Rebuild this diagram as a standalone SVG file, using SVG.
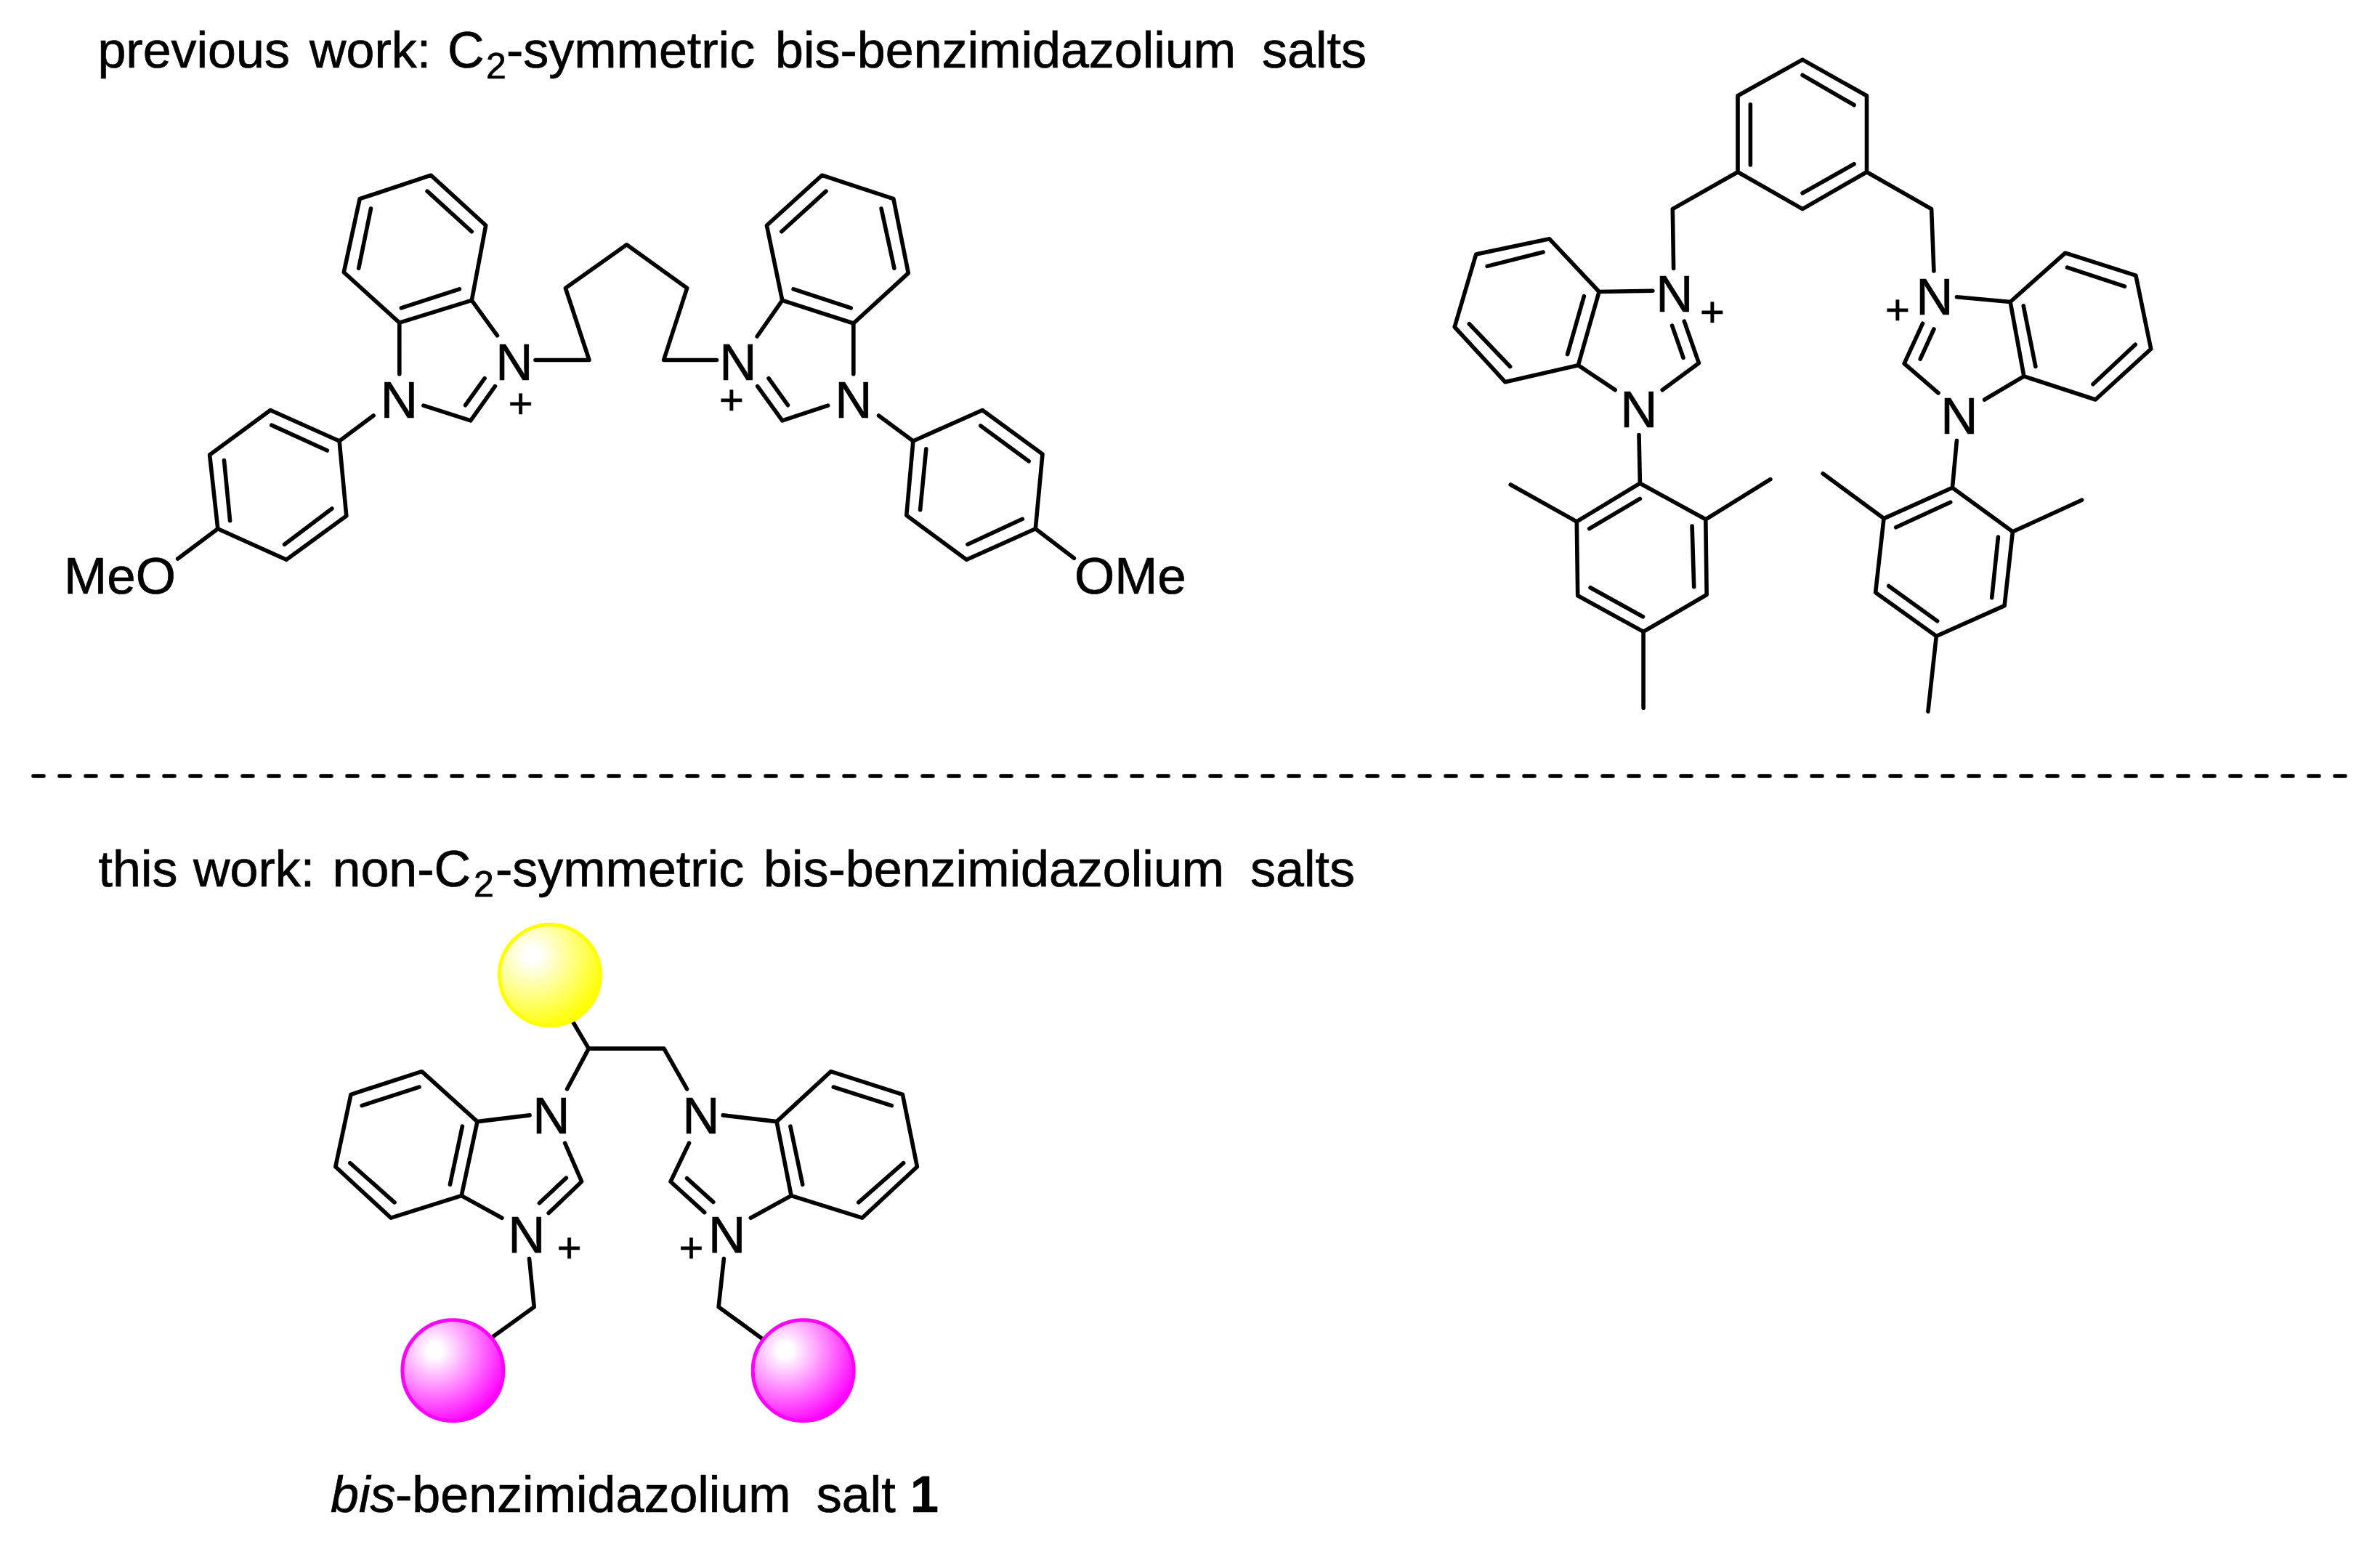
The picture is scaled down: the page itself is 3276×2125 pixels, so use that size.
<svg xmlns="http://www.w3.org/2000/svg" width="3276" height="2125" viewBox="0 0 3276 2125">
<style>
text{font-family:"Liberation Sans",Arial,sans-serif;fill:#000;stroke:#000;stroke-width:.7}
.h{font-size:70px}
.s{font-size:50px}
.a{font-size:71px;text-anchor:middle}
.m{font-size:71px}
.p{font-size:58px;text-anchor:middle}
.b{fill:none;stroke:#000;stroke-width:5.6;stroke-linecap:round;stroke-linejoin:round}
</style>
<defs>
<radialGradient id="yb" cx="0.32" cy="0.3" r="0.75"><stop offset="0" stop-color="#fff"/><stop offset="0.1" stop-color="#fff"/><stop offset="1" stop-color="#ff0"/></radialGradient>
<radialGradient id="pb" cx="0.32" cy="0.3" r="0.75"><stop offset="0" stop-color="#fff"/><stop offset="0.1" stop-color="#fff"/><stop offset="1" stop-color="#f0f"/></radialGradient>
</defs>
<rect width="3276" height="2125" fill="#fff"/>
<g id="heading-previous"><text class="h" y="93"><tspan x="134.4">previous</tspan><tspan x="426">work:</tspan><tspan x="616">C</tspan></text><text class="s" x="669" y="108">2</text><text class="h" y="93"><tspan x="697">-symmetric</tspan><tspan x="1067">bis-benzimidazolium</tspan><tspan x="1737">salts</tspan></text></g>
<line id="divider" x1="46" y1="1068" x2="3248" y2="1068" stroke="#000" stroke-width="5.5" stroke-linecap="round" stroke-dasharray="14 22"/>
<g id="heading-this"><text class="h" y="1220"><tspan x="135.5">this</tspan><tspan x="266">work:</tspan><tspan x="457.5">non-C</tspan></text><text class="s" x="652" y="1234">2</text><text class="h" y="1220"><tspan x="682">-symmetric</tspan><tspan x="1051">bis-benzimidazolium</tspan><tspan x="1721">salts</tspan></text></g>

<g id="molecule-butyl">
<path class="b" d="M593.2 241.2L668.7 310.3L649.3 413.4L549.8 444.1L473.3 374.7L495.2 273.7ZM588.1 263.1L649.3 318.7M510.5 287.1L493.7 369.2M632.4 397.8L552.3 423.9M649.3 413.4L684.5 461.8M549.8 444.1V514.8M583 558.2L647.8 578.8L681.4 531.6M640.6 557.7L667.1 520.7M737 495.5H811L778.4 396.5L862.6 336.8L945.7 396.5L913.6 495.5H986.5M514.1 572L467.1 607L372.2 564.5L288.6 625.9L299.8 727.8L394.2 770.3L476.8 710.1L467.1 607M373.8 585.1L450.3 620M308.5 633.5L316.6 716.8M456.9 700L391.6 749.2M299.8 727.8L244.7 769"/>
<path class="b" d="M1131.4 241.2L1229.9 273.7L1250.3 375.9L1174.8 445L1076.8 413.4L1055.4 310.3ZM1137 263.1L1075.8 318.7M1213.1 287.1L1230.9 369.2M1092.1 397.8L1171.2 423.9M1076.8 413.4L1042.1 463M1174.8 445V514.8M1139.6 558.2L1076.8 578.8L1042.7 531.6M1084.5 557.7L1058 520.7M1209.5 572L1256.9 607L1352.3 564.5L1435 625.1L1425.3 727.8L1330.4 770.3L1247.8 709.3L1256.9 607M1349.8 585.9L1416.1 634.8M1407.4 714.3L1331.9 749.2M1274.8 617.9L1266.6 701.7M1425.3 727.8L1478.4 768.2"/>
<text class="a" x="708" y="523">N</text><text class="a" x="549.5" y="575">N</text><text class="p" x="716.6" y="575">+</text>
<text class="a" x="1016" y="523">N</text><text class="a" x="1174.8" y="575">N</text><text class="p" x="1007" y="570">+</text>
<text class="m" x="88" y="817">MeO</text><text class="m" x="1479" y="817">OMe</text>
</g>

<g id="molecule-xylyl">
<path class="b" d="M2481.1 82.1L2569.5 131.8V236.7L2481.1 287.6L2392 236.7V131.8ZM2481.1 103.3L2552.1 144.5M2552.1 225.8L2481.1 265.8M2409.4 143.9V227M2392 236.7L2302.3 287.6L2303.6 369.4M2569.5 236.7L2658.6 287.6L2661.9 373"/>
<path class="b" d="M2274.8 400.3L2201.1 401.5L2132.8 328.8L2031.7 350L2002.2 450L2071.9 525.8L2172.3 502.7L2201.1 401.5M2124.1 347L2047.1 366.4M2022.3 445.8L2078.6 504.5M2180.4 407.6L2157.6 487.6M2172.3 502.7L2223.2 536.7M2288.2 536.7L2338.4 499.7L2318.3 442.1M2317 492.4L2301.6 448.2M2256 598.5L2257.4 665.2L2347.8 714.8L2349.2 818.5L2262.1 869.4L2171.7 819.7L2170.3 717.9L2257.4 665.2M2257.4 686.4L2187.7 727.6M2329.1 724L2331.7 807.6M2261.4 848.8L2189.1 808.8M2170.3 717.9L2079.2 667M2347.8 714.8L2436.9 659.7M2262.1 869.4V974.2"/>
<path class="b" d="M2693.4 408.8L2767.1 415.5L2842.8 348.2L2939.9 379.1L2960.7 480.3L2884.3 550L2785.9 517.9L2767.1 415.5M2845.5 368.2L2924.5 394.2M2939.2 474.2L2881 528.8M2785.2 420.9L2801.9 504.5M2785.9 517.9L2731.6 550M2668 540.9L2621.1 500.3L2646.5 445.2M2643.2 494.2L2661.9 453M2693.4 606.4L2687.4 671.2L2770.4 731.8L2759.1 833.6L2665.3 875.5L2581.6 815.5L2593 713.6L2687.4 671.2M2684.7 691.2L2609.7 725.8M2750.4 739.1L2741.7 822.7M2666.6 854.8L2599.7 806.4M2593 713.6L2509.2 651.8M2770.4 731.8L2865.6 688.2M2665.3 875.5L2653.9 979.1"/>
<text class="a" x="2305" y="429">N</text><text class="a" x="2256" y="588">N</text><text class="p" x="2357" y="449">+</text>
<text class="a" x="2663" y="433">N</text><text class="a" x="2697" y="597">N</text><text class="p" x="2612" y="446">+</text>
</g>

<g id="molecule-target">
<path class="b" d="M789.1 1407.3L810.3 1443.1H913.9L945.5 1498.7M810.3 1443.1L780.6 1498.7M729.1 1534.9L657 1543.6L580.6 1474.7L483 1506.3L461.8 1605.8L538.2 1676.2L635.2 1645.6L657 1543.6M577 1496.1L498.2 1521.6M481.8 1600.7L543 1654.8M636.4 1550.2L619.4 1630.3M635.2 1645.6L690.9 1676.2M777.6 1573.2L800.6 1626.2L755.2 1669.6M779.4 1621.1L742.4 1655.8M728.5 1732.3L735.2 1798.7L678.8 1839.5"/>
<path class="b" d="M995.2 1534.9L1069.1 1543.6L1143.6 1474.7L1242.4 1506.3L1262.4 1605.8L1186.7 1676.2L1089.1 1645.6L1069.1 1543.6M1147.3 1496.1L1227.3 1521.6M1243.6 1600.7L1181.8 1654.8M1087.9 1550.2L1104.8 1630.3M1089.1 1645.6L1033.3 1676.2M948.5 1573.2L923 1626.2L969.7 1668.6M945.5 1621.6L981.8 1654.3M996.4 1732.3L989.1 1798.7L1048.5 1842"/>
<circle cx="757" cy="1342" r="69.5" fill="url(#yb)" stroke="#ff0" stroke-width="5"/>
<circle cx="623.4" cy="1886.2" r="69.5" fill="url(#pb)" stroke="#f0f" stroke-width="5"/>
<circle cx="1105.7" cy="1886.2" r="69.5" fill="url(#pb)" stroke="#f0f" stroke-width="5"/>
<text class="a" x="758.8" y="1560">N</text><text class="a" x="964.8" y="1560">N</text><text class="a" x="724.8" y="1724">N</text><text class="a" x="1000.6" y="1724">N</text>
<text class="p" x="783.6" y="1737">+</text><text class="p" x="951.5" y="1737">+</text>
<text class="h" y="2081"><tspan x="455" font-style="italic">bis</tspan><tspan x="544">-benzimidazolium</tspan><tspan x="1123.7">salt</tspan><tspan x="1253" font-weight="bold">1</tspan></text>
</g>
</svg>
